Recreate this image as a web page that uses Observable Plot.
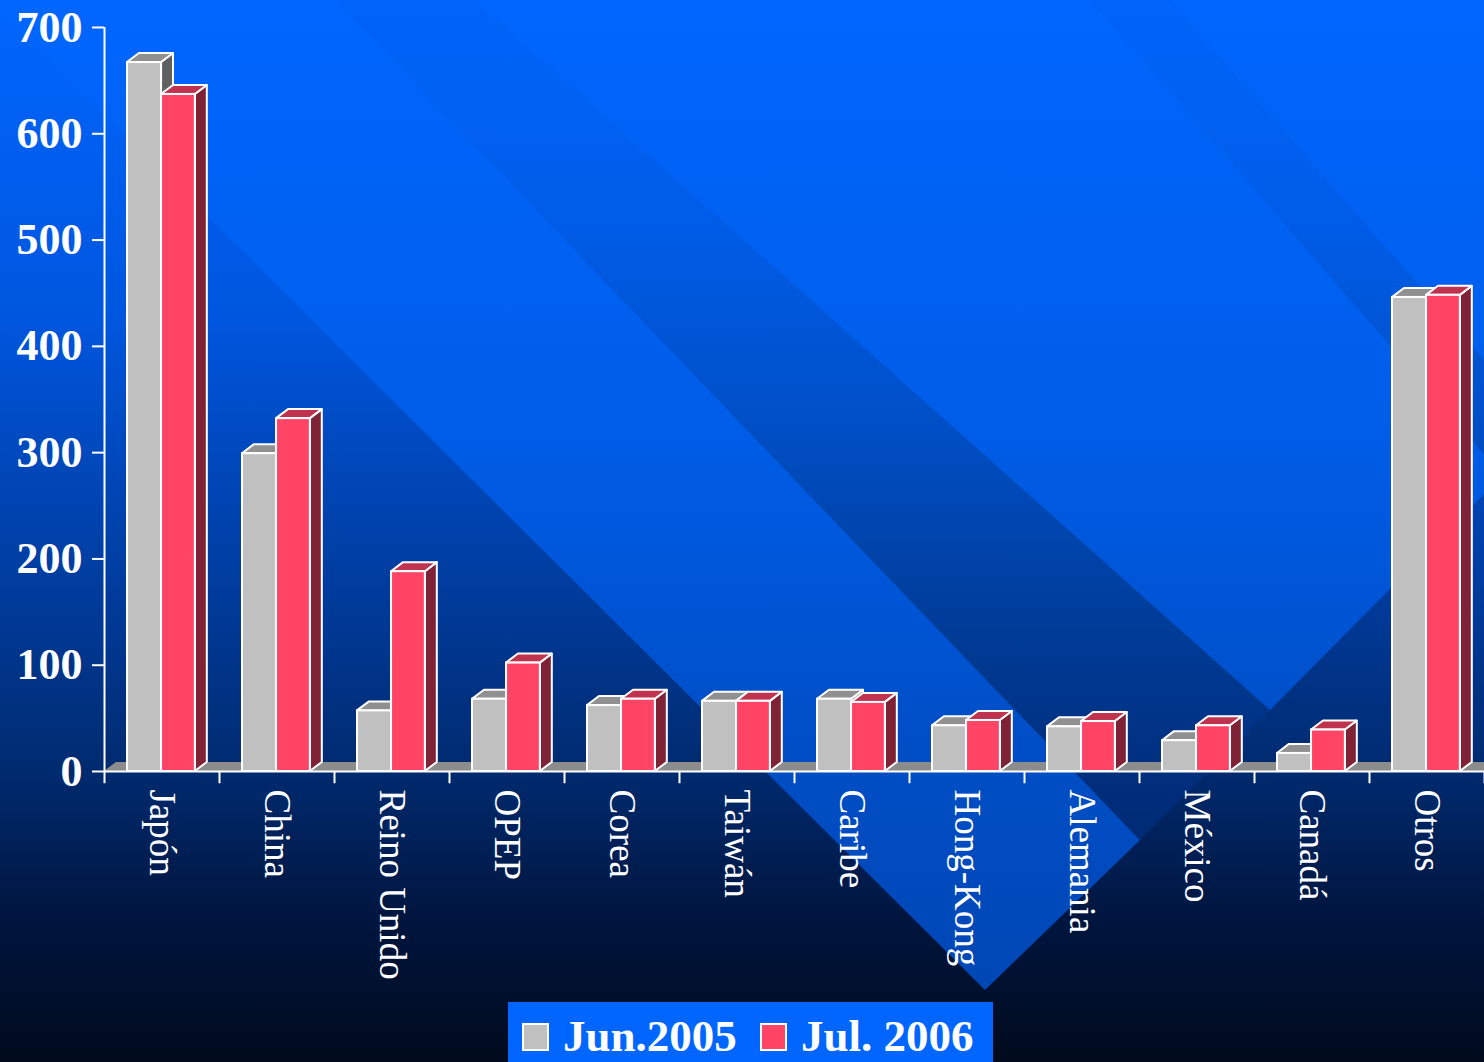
<!DOCTYPE html>
<html><head><meta charset="utf-8">
<script src="https://cdn.jsdelivr.net/npm/d3@7"></script>
<script src="https://cdn.jsdelivr.net/npm/@observablehq/plot@0.6"></script>
<style>
html,body{margin:0;padding:0;background:#000a1c;}
#wrap{position:relative;width:1484px;height:1062px;overflow:hidden;font-family:"Liberation Serif","Times New Roman",serif;}
#bg{position:absolute;left:0;top:0;}
#chart{position:absolute;left:0;top:0;}
#chart g[aria-label="y-axis tick label"]{font-weight:bold;}
#legend{position:absolute;left:508px;top:1002px;width:485px;height:60px;background:#0066ff;}
.sw{position:absolute;top:21px;width:23px;height:24px;border:2px solid #fff;}
.lt{position:absolute;top:9px;line-height:50px;font-size:45px;font-weight:bold;color:#fff;white-space:nowrap;}
</style></head>
<body>
<div id="wrap">
<svg id="bg" width="1484" height="1062" viewBox="0 0 1484 1062">
  <defs>
    <linearGradient id="gBase" x1="0" y1="0" x2="0" y2="1062" gradientUnits="userSpaceOnUse">
      <stop offset="0" stop-color="#0066ff"/>
      <stop offset="0.3" stop-color="#0056de"/>
      <stop offset="0.55" stop-color="#003c9e"/>
      <stop offset="0.73" stop-color="#002a6e"/>
      <stop offset="0.86" stop-color="#001640"/>
      <stop offset="1" stop-color="#000a1c"/>
    </linearGradient>
    <linearGradient id="gLight" x1="0" y1="0" x2="0" y2="1062" gradientUnits="userSpaceOnUse">
      <stop offset="0" stop-color="#0066ff"/>
      <stop offset="0.4" stop-color="#005de8"/>
      <stop offset="0.7" stop-color="#004ec6"/>
      <stop offset="0.95" stop-color="#0046b4"/>
    </linearGradient>
    <linearGradient id="gDark" x1="0" y1="0" x2="0" y2="1062" gradientUnits="userSpaceOnUse">
      <stop offset="0" stop-color="#0064fa"/>
      <stop offset="0.2" stop-color="#005de9"/>
      <stop offset="0.4" stop-color="#004fc6"/>
      <stop offset="0.6" stop-color="#003b96"/>
      <stop offset="0.75" stop-color="#002d7a"/>
      <stop offset="0.85" stop-color="#00266a"/>
    </linearGradient>
  </defs>
  <rect x="0" y="0" width="1484" height="1062" fill="url(#gBase)"/>
  <polygon points="-10,0 335,0 1140,840 985,990" fill="url(#gLight)"/>
  <polygon points="335,0 475,0 1270,710 1140,840" fill="url(#gDark)"/>
  <polygon points="475,0 1090,0 1484,454 1484,494 1270,710" fill="url(#gLight)"/>
  <polygon points="1090,0 1170,0 1484,360 1484,454" fill="url(#gDark)"/>
  <polygon points="1170,0 1484,0 1484,360" fill="url(#gLight)"/>
</svg>
<div id="chart"></div>
<div id="legend">
  <div class="sw" style="left:14px;background:#c0c0c0;"></div>
  <div class="lt" style="left:55px;">Jun.2005</div>
  <div class="sw" style="left:252px;background:#ff4466;"></div>
  <div class="lt" style="left:293px;">Jul. 2006</div>
</div>
</div>
<script>
const categories = ["Japón","China","Reino Unido","OPEP","Corea","Taiwán","Caribe","Hong-Kong","Alemania","México","Canadá","Otros"];
const jun2005 = [667, 299, 57, 68, 62, 66, 68, 43, 42, 29, 17, 446];
const jul2006 = [637, 332, 188, 102, 68, 66, 65, 48, 47, 43, 39, 448];
const yTicks = [0, 100, 200, 300, 400, 500, 600, 700];

const DX = 0.104, DY = 8.5;
const slots = [[0.2, 0.496], [0.496, 0.79]];
const colors = [
  {front: "#c0c0c0", top: "#909090", side: "#606060"},
  {front: "#ff4466", top: "#c0334f", side: "#802236"}
];
function rows(vals, k) {
  return vals.map((v, i) => ({id: k + "-" + i, i, v, x0: i + slots[k][0], x1: i + slots[k][1]}));
}
const topPts = rs => rs.flatMap(r => [
  {id: r.id, y: r.v, a: r.x0, b: r.x1},
  {id: r.id, y: r.v + DY, a: r.x0 + DX, b: r.x1 + DX}
]);
const sidePts = rs => rs.flatMap(r => [
  {id: r.id, x: r.x1, a: 0, b: r.v},
  {id: r.id, x: r.x1 + DX, a: DY, b: r.v + DY}
]);
function barMarks(rs, c) {
  return [
    Plot.areaY(sidePts(rs), {x: "x", y1: "a", y2: "b", z: "id", fill: c.side, stroke: "white", strokeWidth: 2}),
    Plot.areaX(topPts(rs), {y: "y", x1: "a", x2: "b", z: "id", fill: c.top, stroke: "white", strokeWidth: 2}),
    Plot.rect(rs, {x1: "x0", x2: "x1", y1: 0, y2: "v", fill: c.front, stroke: "white", strokeWidth: 2})
  ];
}
const gray = rows(jun2005, 0), red = rows(jul2006, 1);
const n = categories.length;
const floor = [{y: 0, a: 0, b: n}, {y: DY, a: DX, b: n + DX}];

const chart = Plot.plot({
  width: 1484, height: 1000,
  marginLeft: 104, marginRight: 0, marginTop: 27, marginBottom: 229,
  x: {domain: [0, n], label: null, axis: null},
  y: {domain: [0, 700], label: null},
  style: {background: "transparent", color: "white", fontFamily: "'Liberation Serif','Times New Roman',serif"},
  marks: [
    Plot.areaX(floor, {y: "y", x1: "a", x2: "b", fill: "#8c8c8c"}),
    ...barMarks(gray, colors[0]),
    ...barMarks(red, colors[1]),
    Plot.ruleY([0], {stroke: "white", strokeWidth: 2}),
    Plot.ruleX([0], {y1: 0, y2: 700, stroke: "white", strokeWidth: 2}),
    Plot.ruleX(d3.range(0, n + 1), {x: d => d, y1: 0, y2: -11.5, stroke: "white", strokeWidth: 2}),
    Plot.axisY({ticks: yTicks, tickSize: 12, tickPadding: 10, fontSize: 44, fontWeight: "bold", strokeWidth: 2, label: null}),
    Plot.text(categories, {x: (d, i) => i + 0.5, y: 0, text: d => d, rotate: 90, textAnchor: "start", lineAnchor: "middle", dy: 18, fontSize: 37, fill: "white"})
  ]
});
document.getElementById("chart").appendChild(chart);
</script>
</body></html>
